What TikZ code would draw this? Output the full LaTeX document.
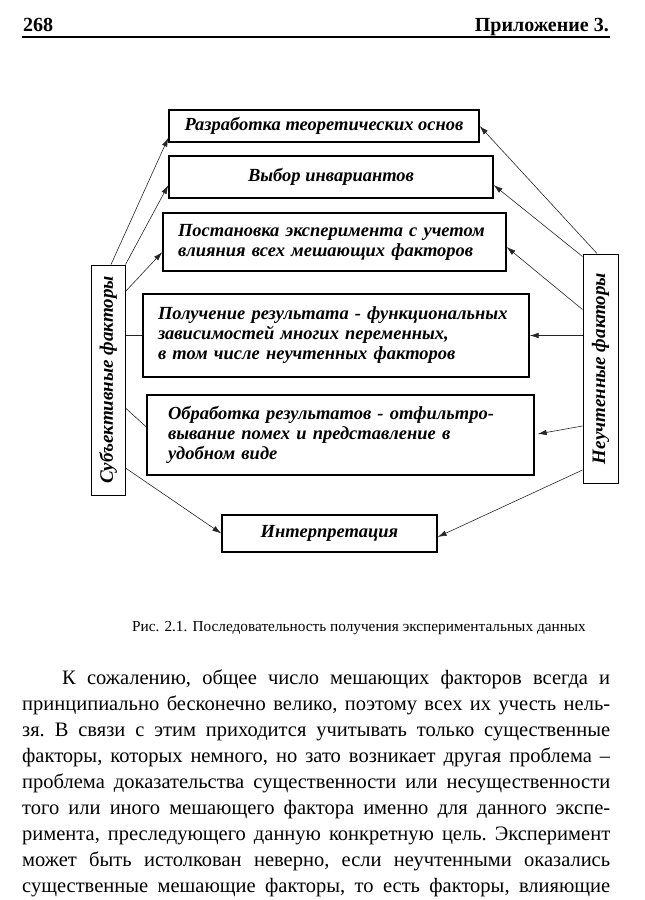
\documentclass[tikz,border=0pt]{standalone}
\usepackage{fontspec}
\setmainfont{Liberation Serif}
\newfontfamily\boxfont{Liberation Serif}
\usepackage{graphicx}
\usetikzlibrary{arrows.meta,calc,positioning}

\begin{document}
\begin{tikzpicture}[x=1pt, y=-1pt,
  box/.style={draw, line width=1.3pt, inner xsep=15pt, inner ysep=0pt,
    align=left, font=\boxfont\fontsize{18.5}{20}\selectfont\bfseries\itshape},
  sidebox/.style={draw, line width=1pt, inner sep=0pt, minimum width=34pt,
    minimum height=230pt, font=\boxfont\fontsize{19}{20}\selectfont\bfseries\itshape},
  arr/.style={-{Latex[length=9pt,width=5.5pt]}, line width=0.6pt, black!85},
  link/.style={line width=0.6pt, black!85}]

\useasboundingbox (0,0) rectangle (645,900);

% Шапка страницы
\node[anchor=base west, inner sep=0pt, font=\fontsize{20}{24}\selectfont\bfseries] (pagenum) at (23,31) {268};
\node[anchor=base east, inner sep=0pt, font=\fontsize{20}{24}\selectfont\bfseries] (chapter) at (609,31) {Приложение 3.};
\draw[line width=1.3pt] (22,37) -- (610,37);

% Этапы эксперимента
\node[box, minimum width=310pt, minimum height=32pt, align=center] (teor) at (324,126) {Разработка теоретических основ};
\node[box, minimum width=324pt, minimum height=42pt, align=center] (inv) at (331,177) {Выбор инвариантов};
\node[box, text width=313pt, minimum height=58pt] (post) at (334.5,242) {Постановка эксперимента с учетом\\влияния всех мешающих факторов};
\node[box, text width=356pt, minimum height=83pt] (polu) at (336,335.5) {Получение результата - функциональных\\зависимостей многих переменных,\\в том числе неучтенных факторов};
\node[box, inner xsep=21pt, text width=345pt, minimum height=80pt] (obr) at (340.5,435) {Обработка результатов - отфильтро-\\вывание помех и представление в\\удобном виде};
\node[box, minimum width=215pt, minimum height=37pt, align=center] (interp) at (329.5,533.5) {Интерпретация};

% Боковые факторы
\node[sidebox] (subj) at (108,380) {\rotatebox{90}{Субъективные факторы}};
\node[sidebox, minimum width=35pt, minimum height=229pt] (neucht) at (600.5,368.5) {\rotatebox{90}{Неучтенные факторы}};

% Субъективные факторы -> этапы
\draw[arr] ([xshift=3pt]subj.north) -- ([yshift=5pt]teor.south west);
\draw[arr] (subj.north east) -- ([yshift=-8pt]inv.west);
\draw[arr] ([yshift=-27pt]subj.north east) -- ([yshift=-10pt]post.west);
\draw[link] (polu.west -| subj.east) -- (polu.west);
\draw[link] ([yshift=-28pt]subj.east) -- ([yshift=8pt]obr.west);
\draw[arr] ([yshift=-88pt]subj.east) -- (interp.west);

% Неучтенные факторы -> этапы
\draw[arr] ([xshift=-3.5pt]neucht.north) -- (teor.east);
\draw[arr] ([yshift=-3pt]neucht.north west) -- ([yshift=-8pt]inv.east);
\draw[arr] ([yshift=-56pt]neucht.north west) -- ([yshift=-5pt]post.east);
\draw[arr] (polu.east -| neucht.west) -- (polu.east);
\draw[arr] ([yshift=-57.5pt]neucht.west) -- ([xshift=3pt,yshift=1pt]obr.east);
\draw[arr] ([yshift=-101.5pt]neucht.west) -- ([yshift=-3.5pt]interp.east);

% Подпись
\node[font=\fontsize{15.3}{18}\selectfont] (caption) at (359,628) {Рис. 2.1. Последовательность получения экспериментальных данных};

% Текст страницы
\node[anchor=north west, inner sep=0pt, text width=588pt, align=justify,
  font=\fontsize{20.5}{26}\selectfont] (body) at (22,670) {\frenchspacing\parfillskip=0pt\hyphenpenalty=10000\relax
\hspace*{40pt}К сожалению, общее число мешающих факторов всегда и\linebreak
принципиально бесконечно велико, поэтому всех их учесть нель-\linebreak
зя. В связи с этим приходится учитывать только существенные\linebreak
факторы, которых немного, но зато возникает другая проблема –\linebreak
проблема доказательства существенности или несущественности\linebreak
того или иного мешающего фактора именно для данного экспе-\linebreak
римента, преследующего данную конкретную цель. Эксперимент\linebreak
может быть истолкован неверно, если неучтенными оказались\linebreak
существенные мешающие факторы, то есть факторы, влияющие\par};

\end{tikzpicture}
\end{document}
